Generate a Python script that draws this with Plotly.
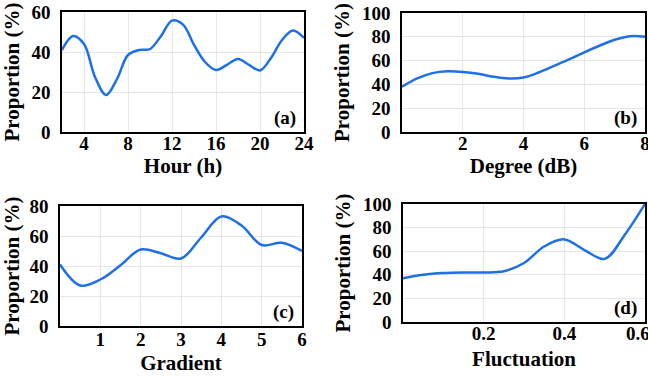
import plotly.graph_objects as go

# Panel (a)
hour = list(range(2, 25))
prop_a = [41, 48, 44, 27.5, 18.5, 26.5, 38.5, 41, 41.5, 48, 55.7, 53.7, 43.6, 35, 31, 33.6, 36.5, 33.6, 30.8, 37, 46, 50.7, 47]
# Panel (b)
degree = [0, 0.5, 1, 1.5, 2, 2.5, 3, 3.5, 4, 4.5, 5, 5.5, 6, 6.5, 7, 7.5, 8]
prop_b = [38, 45, 49.5, 51, 50.5, 49, 46.5, 45, 45.8, 50, 55.5, 61, 67, 72.5, 77.5, 80.5, 80]
# Panel (c)
gradient = [0, 0.5, 1, 1.5, 2, 2.5, 3, 3.5, 4, 4.5, 5, 5.5, 6]
prop_c = [41, 27, 31, 40.5, 51, 48.5, 45, 59, 73, 67, 54, 55.5, 50]
# Panel (d)
fluct = [0, 0.05, 0.1, 0.15, 0.2, 0.25, 0.3, 0.35, 0.4, 0.45, 0.5, 0.55, 0.6]
prop_d = [37, 40, 41.5, 42, 42, 43, 50, 64, 70, 61, 53.5, 74, 100]

labels = ["(a)", "(b)", "(c)", "(d)"]
xtitles = ["Hour (h)", "Degree (dB)", "Gradient", "Fluctuation"]
ytitle = "Proportion (%)"

xticks = [[4, 8, 12, 16, 20, 24], [2, 4, 6, 8], [1, 2, 3, 4, 5, 6], [0.2, 0.4, 0.6]]
xticktext = [None, None, None, ["0.2", "0.4", "0.6\u00a0\u00a0\u00a0"]]
yticks = [[0, 20, 40, 60], [0, 20, 40, 60, 80, 100], [0, 20, 40, 60, 80], [0, 20, 40, 60, 80, 100]]
xranges = [[2, 24], [0, 8], [0, 6], [0, 0.6]]
yranges = [[0, 60], [0, 100], [0, 80], [0, 100]]

W, H = 648, 377
boxes = [(62, 304, 12, 132), (402, 645, 13, 132), (60, 302, 206, 326), (403, 645, 204, 322)]
xlabstand = [-7, -7, -5, -7]
xstand = [6, 6, 7, 9]
ystand = [7, 7, 7, 7]

FONT = "Liberation Serif"
BLUE = "#1f6fe6"
fig = go.Figure()
data = [(hour, prop_a), (degree, prop_b), (gradient, prop_c), (fluct, prop_d)]
for i, (x, y) in enumerate(data):
    n = "" if i == 0 else str(i + 1)
    fig.add_trace(go.Scatter(x=x, y=y, mode="lines", line=dict(color=BLUE, width=2.5, shape="spline", smoothing=1.0),
                             xaxis="x" + n, yaxis="y" + n, showlegend=False, cliponaxis=True))
    x0, x1, y0, y1 = boxes[i]
    common = dict(showline=True, linecolor="black", linewidth=1.5, mirror=True, showgrid=True,
                  gridcolor="#e6e6e6", gridwidth=1, zeroline=False, ticks="", automargin=False,
                  ticklabeloverflow="allow",
                  tickfont=dict(family=FONT, size=19, color="black", weight="bold"))
    fig.layout["xaxis" + n] = dict(domain=[x0 / W, x1 / W], range=xranges[i], anchor="y" + n,
                                   tickvals=xticks[i], ticktext=xticktext[i], ticklabelstandoff=xlabstand[i],
                                   title=dict(text="<b>" + xtitles[i] + "</b>", standoff=xstand[i],
                                              font=dict(family=FONT, size=21, color="black")), **common)
    fig.layout["yaxis" + n] = dict(domain=[1 - y1 / H, 1 - y0 / H], range=yranges[i], anchor="x" + n,
                                   tickvals=yticks[i], ticklabelstandoff=6,
                                   title=dict(text="<b>" + ytitle + "</b>", standoff=ystand[i],
                                              font=dict(family=FONT, size=21, color="black")), **common)
    fig.add_annotation(x=(x1 - 6) / W, y=1 - (y1 - 14) / H, xref="paper", yref="paper", xanchor="right",
                       yanchor="middle", showarrow=False, text="<b>" + labels[i] + "</b>",
                       font=dict(family=FONT, size=19, color="black"))

fig.update_layout(width=W, height=H, margin=dict(l=0, r=0, t=0, b=0), plot_bgcolor="white",
                  paper_bgcolor="white")
fig.write_html("out.html", config={"displayModeBar": False},
               post_script="document.body.style.margin='0';document.body.style.overflow='hidden';")
